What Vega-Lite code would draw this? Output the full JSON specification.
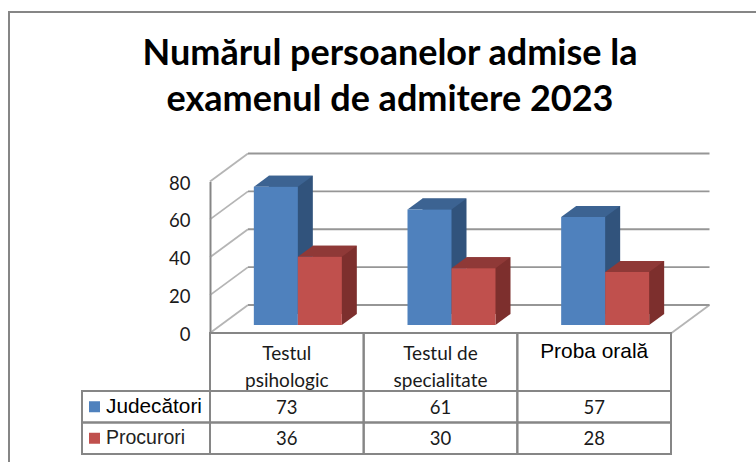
{
"$schema":"https://vega.github.io/schema/vega-lite/v6.json",
"width":756,"height":462,"padding":0,"autosize":{"type":"none"},"background":"white",
"config":{"view":{"stroke":null}},
"title":{"text":["Numărul persoanelor admise la","examenul de admitere 2023"],"font":"Lato","fontWeight":"bold","fontSize":36,"color":"#000000","anchor":"middle","frame":"group","offset":-147,"dx":12,"lineHeight":46,"baseline":"alphabetic"},
"datasets":{
"bars":[
{"categorie":"Testul psihologic","serie":"Judecători","valoare":73},
{"categorie":"Testul de specialitate","serie":"Judecători","valoare":61},
{"categorie":"Proba orală","serie":"Judecători","valoare":57},
{"categorie":"Testul psihologic","serie":"Procurori","valoare":36},
{"categorie":"Testul de specialitate","serie":"Procurori","valoare":30},
{"categorie":"Proba orală","serie":"Procurori","valoare":28}],
"ticks":[{"t":0},{"t":20},{"t":40},{"t":60},{"t":80}],
"heads":[{"categorie":"Testul psihologic","rand":"antet","text":"Testul\npsihologic"},{"categorie":"Testul de specialitate","rand":"antet","text":"Testul de\nspecialitate"},{"categorie":"Proba orală","rand":"antet","text":"Proba orală"}],
"series":[{"serie":"Judecători","col":"legenda"},{"serie":"Procurori","col":"legenda"}]
},
"resolve":{"scale":{"x":"independent","y":"independent"}},
"layer":[
{"data":{"values":[{"a":0,"b":1}]},"mark":{"type":"rect","fill":"transparent","stroke":"#868686","strokeWidth":2},
 "encoding":{"x":{"field":"a","type":"quantitative","scale":{"domain":[0,1],"range":[9,780]},"axis":null},"x2":{"field":"b"},"y":{"field":"a","type":"quantitative","scale":{"domain":[0,1],"range":[12,480]},"axis":null},"y2":{"field":"b"}}},
{"data":{"name":"ticks"},
 "transform":[{"calculate":"0","as":"stanga"},{"calculate":"1","as":"dreapta"}],
 "encoding":{"y":{"field":"t","type":"quantitative","scale":{"domain":[0,80],"range":[333,181.5]},"axis":{"orient":"left","offset":-210,"values":[0,20,40,60,80],"title":null,"grid":false,"ticks":false,"domainColor":"#868686","domainWidth":2,"labelPadding":20,"labelFont":"Lato","labelFontSize":18.5,"labelColor":"#1a1a1a","labelOffset":1.5}}},
 "layer":[
 {"mark":{"type":"rule","stroke":"#969696","strokeWidth":1.8,"xOffset":38,"x2Offset":38,"yOffset":-28},
  "encoding":{"x":{"field":"stanga","type":"quantitative","scale":{"domain":[0,1],"range":[210,671.5]},"axis":null},"x2":{"field":"dreapta"}}},
 {"mark":{"type":"point","filled":false,"shape":"M0,0L38,-28","size":4,"stroke":"#969696","strokeWidth":1.8},
  "encoding":{"x":{"field":"stanga","type":"quantitative"}}},
 {"transform":[{"filter":"datum.t==0"}],"mark":{"type":"point","filled":false,"shape":"M0,0L38,-28","size":4,"stroke":"#969696","strokeWidth":1.8},
  "encoding":{"x":{"field":"dreapta","type":"quantitative"}}}
 ]},
{"data":{"name":"bars"},
 "encoding":{
  "x":{"field":"categorie","type":"nominal","sort":null,"scale":{"domain":["Testul psihologic","Testul de specialitate","Proba orală"],"range":[210,671],"paddingInner":0,"paddingOuter":0},"axis":null},
  "y":{"field":"valoare","type":"quantitative","scale":{"domain":[0,80],"range":[333,181.5]},"axis":null}},
 "layer":[
 {"transform":[{"filter":"datum.serie=='Judecători'"}],"layer":[
  {"mark":{"type":"bar","width":44,"fill":"#31537C","xOffset":4,"yOffset":-19,"y2Offset":-19}},
  {"mark":{"type":"point","filled":true,"shape":"M22,0L22,-11L37,-11Z","size":4,"fill":"#31537C","stroke":null,"opacity":1,"xOffset":-11,"yOffset":-8},"encoding":{"y":{"datum":0}}},
  {"mark":{"type":"point","filled":true,"shape":"M-22,0L-7,-11L37,-11L22,0Z","size":4,"fill":"#3C6392","stroke":null,"opacity":1,"xOffset":-11,"yOffset":-8}},
  {"mark":{"type":"bar","width":44,"fill":"#4F81BD","xOffset":-11,"yOffset":-8,"y2Offset":-8}}
 ]},
 {"transform":[{"filter":"datum.serie=='Procurori'"}],"layer":[
  {"mark":{"type":"bar","width":44,"fill":"#7D2F2D","xOffset":48,"yOffset":-19,"y2Offset":-19}},
  {"mark":{"type":"point","filled":true,"shape":"M22,0L22,-11L37,-11Z","size":4,"fill":"#7D2F2D","stroke":null,"opacity":1,"xOffset":33,"yOffset":-8},"encoding":{"y":{"datum":0}}},
  {"mark":{"type":"point","filled":true,"shape":"M-22,0L-7,-11L37,-11L22,0Z","size":4,"fill":"#8F3937","stroke":null,"opacity":1,"xOffset":33,"yOffset":-8}},
  {"mark":{"type":"bar","width":44,"fill":"#C0504D","xOffset":33,"yOffset":-8,"y2Offset":-8}}
 ]}
 ]},
{"data":{"name":"bars"},
 "encoding":{
  "x":{"field":"categorie","type":"nominal","sort":null,"scale":{"domain":["Testul psihologic","Testul de specialitate","Proba orală"],"range":[210,671],"paddingInner":0,"paddingOuter":0},"axis":null},
  "y":{"field":"serie","type":"nominal","sort":null,"scale":{"domain":["Judecători","Procurori"],"range":[391,454],"paddingInner":0,"paddingOuter":0},"axis":null}},
 "layer":[
  {"mark":{"type":"rect","fill":"transparent","stroke":"#868686","strokeWidth":2}},
  {"mark":{"type":"text","font":"Lato","fontSize":18.5,"color":"#1a1a1a","yOffset":1},"encoding":{"text":{"field":"valoare","type":"quantitative"}}}
 ]},
{"data":{"name":"heads"},
 "encoding":{
  "x":{"field":"categorie","type":"nominal","sort":null,"scale":{"domain":["Testul psihologic","Testul de specialitate","Proba orală"],"range":[210,671],"paddingInner":0,"paddingOuter":0},"axis":null},
  "y":{"field":"rand","type":"nominal","scale":{"domain":["antet"],"range":[333,391],"paddingInner":0,"paddingOuter":0},"axis":null}},
 "layer":[
  {"mark":{"type":"rect","fill":"transparent","stroke":"#868686","strokeWidth":2}},
  {"transform":[{"filter":"datum.categorie!='Proba orală'"}],"mark":{"type":"text","font":"Lato","fontSize":19,"color":"#1a1a1a","lineBreak":"\n","lineHeight":27,"yOffset":-8},"encoding":{"text":{"field":"text"}}},
  {"transform":[{"filter":"datum.categorie=='Proba orală'"}],"mark":{"type":"text","font":"Liberation Sans","fontSize":20.9,"color":"#000000","yOffset":-10},"encoding":{"text":{"field":"text"}}}
 ]},
{"data":{"name":"series"},
 "encoding":{
  "x":{"field":"col","type":"nominal","scale":{"domain":["legenda"],"range":[82,210],"paddingInner":0,"paddingOuter":0},"axis":null},
  "y":{"field":"serie","type":"nominal","sort":null,"scale":{"domain":["Judecători","Procurori"],"range":[391,454],"paddingInner":0,"paddingOuter":0},"axis":null}},
 "layer":[
  {"mark":{"type":"rect","fill":"transparent","stroke":"#868686","strokeWidth":2}},
  {"mark":{"type":"point","filled":true,"shape":"square","size":121,"opacity":1,"xOffset":-51.5,"stroke":null},
   "encoding":{"fill":{"field":"serie","type":"nominal","sort":null,"scale":{"domain":["Judecători","Procurori"],"range":["#4F81BD","#C0504D"]},"legend":null}}},
  {"transform":[{"filter":"datum.serie=='Judecători'"}],"mark":{"type":"text","font":"Liberation Sans","fontSize":20.8,"color":"#000000","align":"left","xOffset":-40},"encoding":{"text":{"field":"serie"}}},
  {"transform":[{"filter":"datum.serie=='Procurori'"}],"mark":{"type":"text","font":"Liberation Sans","fontSize":19.5,"color":"#222222","align":"left","xOffset":-40},"encoding":{"text":{"field":"serie"}}}
 ]}
]
}
